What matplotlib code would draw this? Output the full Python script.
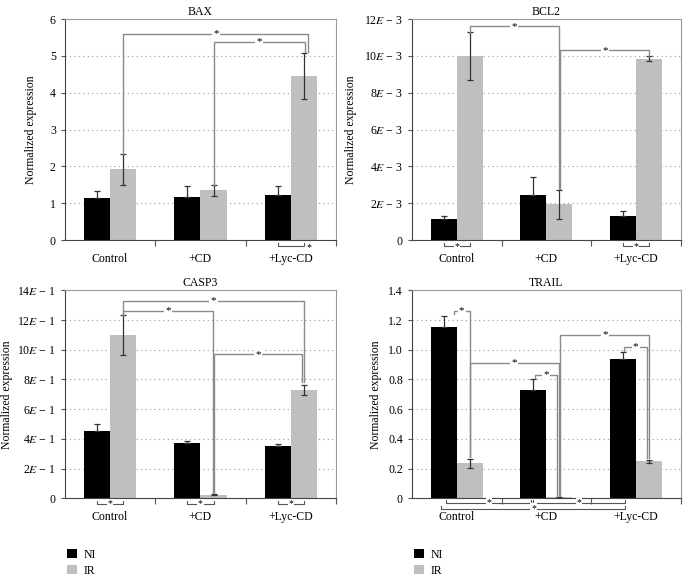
import numpy as np
import matplotlib
matplotlib.use('Agg')
from matplotlib import pyplot as plt
from matplotlib.patches import Patch

plt.rcParams['font.family'] = ['Liberation Serif', 'DejaVu Serif']
plt.rcParams['mathtext.fontset'] = 'stix'
plt.rcParams['font.size'] = 8.5

groups = ['Control', '+CD', '+Lyc-CD']

bax_ni = [1.15, 1.18, 1.23]
bax_ni_err = [0.18, 0.30, 0.25]
bax_ir = [1.92, 1.35, 4.45]
bax_ir_err = [0.43, 0.15, 0.63]

bcl2_ni = [1.15e-3, 2.45e-3, 1.3e-3]
bcl2_ni_err = [0.15e-3, 1.0e-3, 0.3e-3]
bcl2_ir = [10.0e-3, 1.95e-3, 9.85e-3]
bcl2_ir_err = [1.3e-3, 0.8e-3, 0.15e-3]

casp3_ni = [4.55e-1, 3.75e-1, 3.5e-1]
casp3_ni_err = [0.45e-1, 0.1e-1, 0.12e-1]
casp3_ir = [11.0e-1, 0.25e-1, 7.3e-1]
casp3_ir_err = [1.35e-1, 0.05e-1, 0.35e-1]

trail_ni = [1.15, 0.73, 0.94]
trail_ni_err = [0.08, 0.075, 0.045]
trail_ir = [0.235, 0.005, 0.25]
trail_ir_err = [0.03, 0.002, 0.01]

bax_ticks = [0, 1, 2, 3, 4, 5, 6]
bax_labels = ['0', '1', '2', '3', '4', '5', '6']
bcl2_ticks = [0, 2e-3, 4e-3, 6e-3, 8e-3, 10e-3, 12e-3]
bcl2_labels = ['0'] + [r'%d$E$ − 3' % v for v in [2, 4, 6, 8, 10, 12]]
casp3_ticks = [0, 2e-1, 4e-1, 6e-1, 8e-1, 10e-1, 12e-1, 14e-1]
casp3_labels = ['0'] + [r'%d$E$ − 1' % v for v in [2, 4, 6, 8, 10, 12, 14]]
trail_ticks = [0, 0.2, 0.4, 0.6, 0.8, 1.0, 1.2, 1.4]
trail_labels = ['0', '0.2', '0.4', '0.6', '0.8', '1.0', '1.2', '1.4']

bw = 0.29
centers = np.arange(3) + 0.5
x_ni = centers - bw / 2
x_ir = centers + bw / 2
br_col = '#8a8a8a'


def panel(ax, title, ni, ni_err, ir, ir_err, ticks, labels, ylab_x):
    ax.bar(x_ni, ni, bw, color='black', zorder=2)
    ax.bar(x_ir, ir, bw, color='#bfbfbf', zorder=2)
    ax.errorbar(x_ni, ni, yerr=[np.zeros(3), ni_err], fmt='none', ecolor='#333333',
                elinewidth=0.9, capsize=2.5, capthick=0.9, zorder=3)
    ax.errorbar(x_ir, ir, yerr=ir_err, fmt='none', ecolor='#333333',
                elinewidth=0.9, capsize=2.5, capthick=0.9, zorder=3)
    ax.set_xlim(0, 3)
    ax.set_ylim(ticks[0], ticks[-1])
    ax.set_yticks(ticks)
    ax.set_yticklabels(labels)
    for t in ticks[1:-1]:
        ax.axhline(t, color='#9a9a9a', lw=0.8, ls=(0, (1, 3)), zorder=1)
    ax.set_xticks([1, 2, 3])
    ax.set_xticklabels([])
    ax.set_xticks(centers, minor=True)
    ax.set_xticklabels(groups, minor=True)
    ax.tick_params(axis='x', which='major', direction='out', length=4, color='#555555')
    ax.tick_params(axis='x', which='minor', length=0, pad=9)
    ax.tick_params(axis='y', direction='out', length=3, color='#555555')
    for s in ['left', 'bottom']:
        ax.spines[s].set_color('#444444')
    for s in ['top', 'right']:
        ax.spines[s].set_color('#999999')
    ax.set_title(title, fontsize=8.5, pad=3)
    ax.set_ylabel('Normalized expression', fontsize=8.5)
    ax.yaxis.set_label_coords(ylab_x, 0.5)


def bracket(ax, x1, x2, y, y1, y2, xs=None):
    ax.plot([x1, x1, x2, x2], [y1, y, y, y2], color=br_col, lw=1, zorder=4, clip_on=False)
    if xs is None:
        xs = (x1 + x2) / 2
    ax.text(xs, y, '*', ha='center', va='center', fontsize=8, zorder=5,
            bbox=dict(facecolor='white', edgecolor='none', pad=1))


def low_bracket(ax, x1, x2, y=-0.028, h=0.016, xs=None, star=True):
    tr = ax.get_xaxis_transform()
    ax.plot([x1, x1, x2, x2], [y + h, y, y, y + h], color='#555555', lw=0.8,
            transform=tr, clip_on=False)
    if star:
        if xs is None:
            xs = (x1 + x2) / 2
        ax.text(xs, y, '*', ha='center', va='center', fontsize=7, transform=tr,
                bbox=dict(facecolor='white', edgecolor='none', pad=0.5))


fig = plt.figure(figsize=(6.9, 5.76), dpi=100)
ax1 = fig.add_axes([0.094, 0.583, 0.393, 0.384])
ax2 = fig.add_axes([0.597, 0.583, 0.390, 0.384])
ax3 = fig.add_axes([0.094, 0.135, 0.393, 0.361])
ax4 = fig.add_axes([0.597, 0.135, 0.390, 0.361])

# BAX
panel(ax1, 'BAX', bax_ni, bax_ni_err, bax_ir, bax_ir_err, bax_ticks, bax_labels, -0.103)
bracket(ax1, x_ir[0], x_ir[2] + 0.05, 5.6, bax_ir[0] + bax_ir_err[0], 5.1)
bracket(ax1, x_ir[1], x_ir[2] + 0.01, 5.38, bax_ir[1] + bax_ir_err[1], 5.1)
low_bracket(ax1, x_ni[2], x_ir[2], star=False)
ax1.text(x_ir[2] + 0.05, -0.035, '*', ha='center', va='center', fontsize=7,
         transform=ax1.get_xaxis_transform())

# BCL2
panel(ax2, 'BCL2', bcl2_ni, bcl2_ni_err, bcl2_ir, bcl2_ir_err, bcl2_ticks, bcl2_labels, -0.204)
bracket(ax2, x_ir[0], x_ir[1] - 0.01, 11.6e-3, bcl2_ir[0] + bcl2_ir_err[0], 2.8e-3)
bracket(ax2, x_ir[1] + 0.01, x_ir[2], 10.3e-3, 2.8e-3, bcl2_ir[2] + bcl2_ir_err[2])
low_bracket(ax2, x_ni[0], x_ir[0])
low_bracket(ax2, x_ni[2], x_ir[2])

# CASP3
panel(ax3, 'CASP3', casp3_ni, casp3_ni_err, casp3_ir, casp3_ir_err, casp3_ticks, casp3_labels, -0.19)
bracket(ax3, x_ir[0], x_ir[2], 13.3e-1, casp3_ir[0] + casp3_ir_err[0], 7.8e-1)
bracket(ax3, x_ir[0], x_ir[1] - 0.01, 12.6e-1, casp3_ir[0] + casp3_ir_err[0], 0.35e-1)
bracket(ax3, x_ir[1] + 0.01, x_ir[2] - 0.02, 9.7e-1, 0.35e-1, 7.8e-1)
for i in range(3):
    low_bracket(ax3, x_ni[i], x_ir[i])

# TRAIL
panel(ax4, 'TRAIL', trail_ni, trail_ni_err, trail_ir, trail_ir_err, trail_ticks, trail_labels, -0.112)
bracket(ax4, x_ni[0] + 0.11, x_ir[0], 1.26, 1.24, trail_ir[0] + 0.04, xs=x_ni[0] + 0.2)
bracket(ax4, x_ir[0], x_ir[1] - 0.01, 0.91, trail_ir[0] + 0.04, 0.015)
bracket(ax4, x_ni[1] + 0.02, x_ir[1] - 0.03, 0.83, 0.81, 0.015, xs=x_ni[1] + 0.14)
bracket(ax4, x_ir[1] + 0.01, x_ir[2], 1.10, 0.015, trail_ir[2] + 0.02)
bracket(ax4, x_ni[2] + 0.01, x_ir[2] - 0.02, 1.02, 0.99, trail_ir[2] + 0.02, xs=x_ni[2] + 0.14)
low_bracket(ax4, x_ni[0] + 0.03, x_ni[1] - 0.03, y=-0.022, h=0.014)
low_bracket(ax4, x_ni[1], x_ni[2] + 0.02, y=-0.022, h=0.014)
low_bracket(ax4, x_ni[0] - 0.03, x_ni[2] + 0.02, y=-0.05, h=0.014, xs=x_ni[1])

for xl in [0.094, 0.597]:
    fig.legend(handles=[Patch(facecolor='black', label='NI'),
                        Patch(facecolor='#bfbfbf', label='IR')],
               loc='upper left', bbox_to_anchor=(xl - 0.012, 1 - 538 / 576),
               frameon=False, handlelength=0.8, handleheight=0.8,
               labelspacing=0.35, handletextpad=0.6, fontsize=8.5)

fig.savefig('out.png', dpi=100)
